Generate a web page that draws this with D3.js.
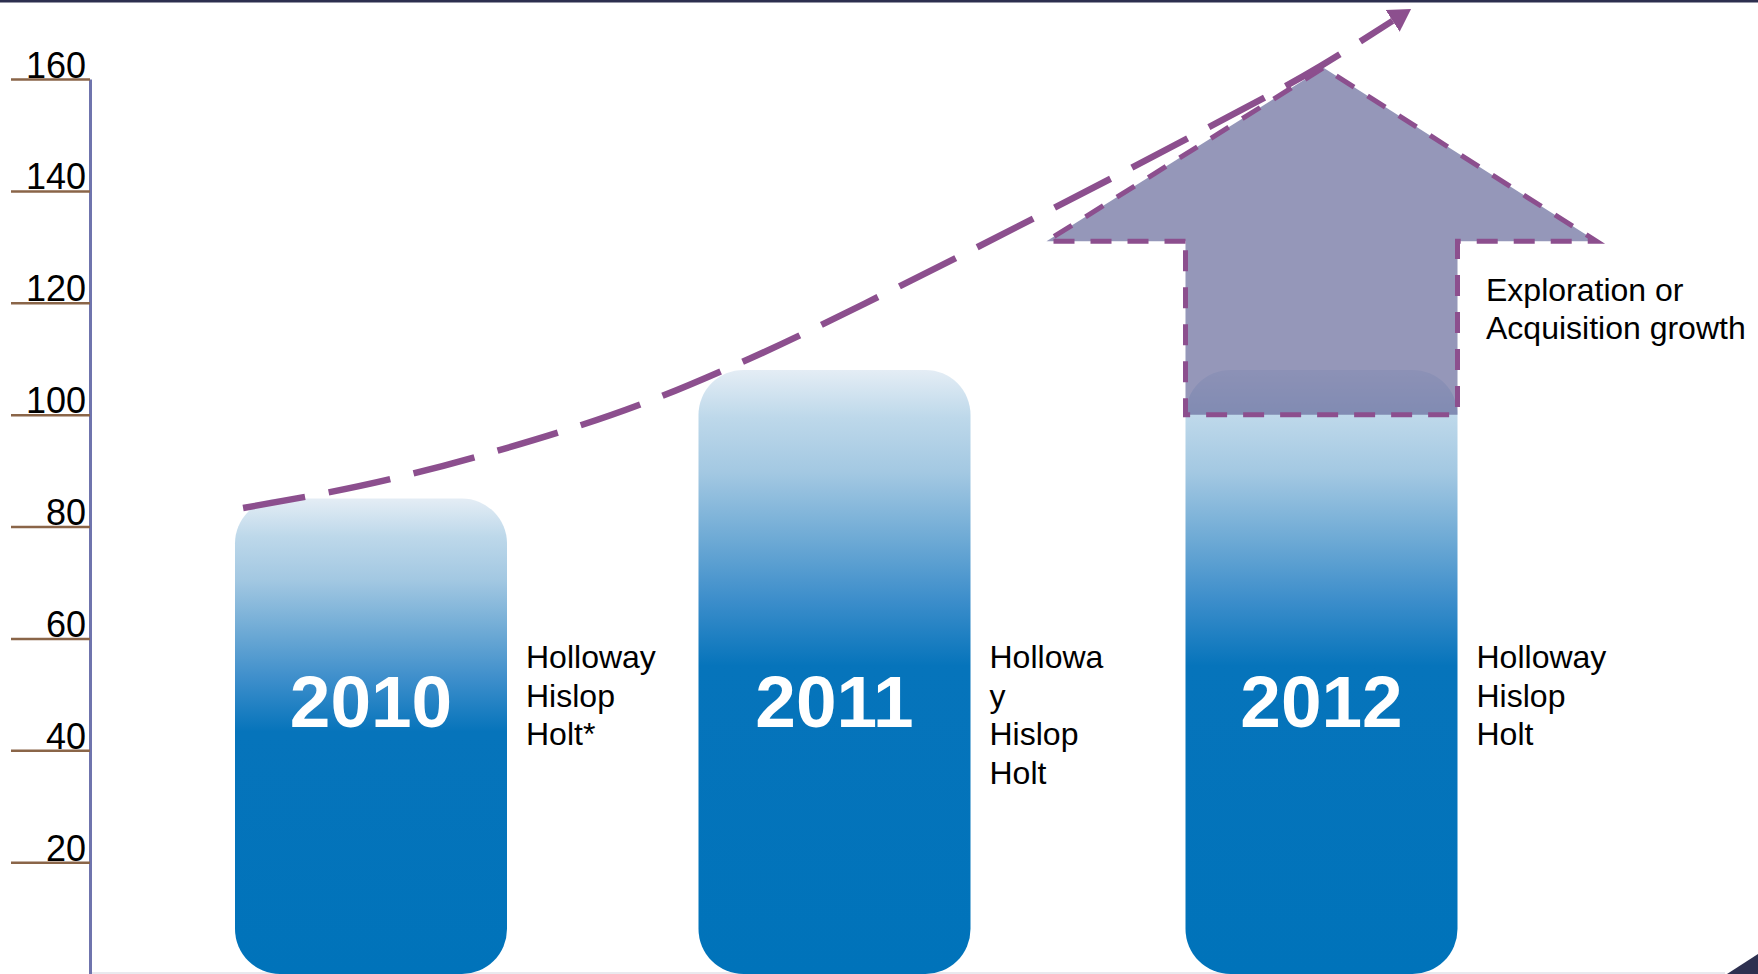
<!DOCTYPE html>
<head>
	<meta charset="utf-8">
	<title>Growth chart</title>
	<style>
	body { margin: 0; background: #fff; }
	svg { display: block; font-family: "Liberation Sans", Arial, sans-serif; }
	.tick text { font-size: 36px; fill: #000; }
	.note { font-size: 32px; fill: #000; }
	.year { font-size: 73px; font-weight: bold; fill: #fff; }
	</style>
</head>
<body>
<script src="https://d3js.org/d3.v7.min.js"></script>
<script>

var width = 1758, height = 974

// data
var years = [2010, 2011, 2012];
var barValues = [85, 108, 108];
var barNotes = [
	["Holloway", "Hislop", "Holt*"],
	["Hollowa", "y", "Hislop", "Holt"],
	["Holloway", "Hislop", "Holt"]
];
var tickValues = [20, 40, 60, 80, 100, 120, 140, 160];
// growth arrow over 2012: shaft bottom, head base, tip
var arrowValues = [100, 131, 162];
var arrowNote = ["Exploration or", "Acquisition growth"];
// dashed trend line (year position, value)
var trendYears = [2009.724, 2010.043, 2010.279, 2010.590, 2010.814, 2011.105, 2011.427, 2011.745, 2011.998, 2012.146];
var trendValues = [83.3, 88.5, 93.7, 102.1, 109.9, 121.7, 135.9, 150.3, 162.3, 170.4];

var svg = d3.select("body")
	.append("svg")
	.attr("width", width)
	.attr("height", height);

var y = d3.scaleLinear().domain([0, 160]).range([974, 79]);
var x = d3.scaleLinear().domain(years).range([371, 834.5, 1321.5]);
var barWidth = 272;

var defs = svg.append("defs");
var grad = defs.append("linearGradient")
	.attr("id", "barGrad")
	.attr("x1", 0).attr("y1", 0).attr("x2", 0).attr("y2", 1);
[[0, "#e4edf5"], [0.08, "#bdd8ea"], [0.17, "#a3c8e2"], [0.28, "#6eaad5"], [0.38, "#3d8ecb"], [0.49, "#0674bb"], [1, "#0073ba"]]
	.forEach(function(s) { grad.append("stop").attr("offset", s[0]).attr("stop-color", s[1]); });

defs.append("marker")
	.attr("id", "head")
	.attr("markerUnits", "userSpaceOnUse")
	.attr("markerWidth", 30).attr("markerHeight", 30)
	.attr("viewBox", "0 -15 30 30")
	.attr("refX", 0).attr("refY", 0)
	.attr("orient", "auto")
	.append("path")
	.attr("d", "M0,-13L22,0L0,13Z")
	.attr("fill", "#8c4f8e");

// frame bits
svg.append("rect").attr("x", 0).attr("y", 0).attr("width", width).attr("height", 2.5).attr("fill", "#2d2f4f");
svg.append("line").attr("x1", 90).attr("x2", 1725).attr("y1", 973).attr("y2", 973)
	.attr("stroke", "#e2e2e8").attr("stroke-width", 1.5);
svg.append("path").attr("d", "M1727,974L1758,954L1758,974Z").attr("fill", "#2d3050");

// axis
var axis = svg.append("g")
	.attr("transform", "translate(90,0)")
	.call(d3.axisLeft(y).tickValues(tickValues).tickSize(79).tickSizeOuter(0));
axis.select(".domain").attr("stroke", "#6f74ad").attr("stroke-width", 3);
axis.selectAll(".tick line").attr("stroke", "#8a6548").attr("stroke-width", 2.5);
axis.selectAll(".tick text").attr("x", -4).attr("dy", -2).attr("font-family", null).attr("font-size", null);

// bars
var bars = svg.selectAll(".bar")
	.data(years)
	.enter().append("g")
	.attr("class", "bar");

bars.append("rect")
	.attr("x", function(d) { return x(d) - barWidth / 2; })
	.attr("y", function(d, i) { return y(barValues[i]); })
	.attr("width", barWidth)
	.attr("height", function(d, i) { return y(0) - y(barValues[i]); })
	.attr("rx", 45).attr("ry", 45)
	.attr("fill", "url(#barGrad)");

bars.append("text")
	.attr("class", "year")
	.attr("x", function(d) { return x(d); })
	.attr("y", 727)
	.attr("text-anchor", "middle")
	.text(function(d) { return d; });

bars.append("text")
	.attr("class", "note")
	.attr("x", function(d) { return x(d) + barWidth / 2 + 19; })
	.attr("y", 668)
	.selectAll("tspan")
	.data(function(d, i) { return barNotes[i]; })
	.enter().append("tspan")
	.attr("x", function() { return this.parentNode.getAttribute("x"); })
	.attr("dy", function(d, i) { return i ? 38.5 : 0; })
	.text(function(d) { return d; });

// growth arrow
var sL = x(2012) - barWidth / 2, sR = x(2012) + barWidth / 2, over = 139;
var arrowPts = [
	[sL, y(arrowValues[1])], [sL - over, y(arrowValues[1])], [x(2012) + 2, y(arrowValues[2])],
	[sR + over, y(arrowValues[1])], [sR, y(arrowValues[1])], [sR, y(arrowValues[0])], [sL, y(arrowValues[0])]
];
svg.append("path")
	.attr("d", "M" + arrowPts.join("L") + "Z")
	.attr("fill", "#636698")
	.attr("fill-opacity", 0.68)
	.attr("stroke", "#8c4f8e")
	.attr("stroke-width", 5)
	.attr("stroke-dasharray", "21,16");

svg.append("text")
	.attr("class", "note")
	.attr("x", 1486)
	.attr("y", 301)
	.selectAll("tspan")
	.data(arrowNote)
	.enter().append("tspan")
	.attr("x", 1486)
	.attr("dy", function(d, i) { return i ? 38 : 0; })
	.text(function(d) { return d; });

// trend
var line = d3.line()
	.x(function(d) { return x(d); })
	.y(function(d, i) { return y(trendValues[i]); })
	.curve(d3.curveMonotoneX);

svg.append("path")
	.attr("d", line(trendYears))
	.attr("fill", "none")
	.attr("stroke", "#8c4f8e")
	.attr("stroke-width", 6.5)
	.attr("stroke-dasharray", "63,24")
	.attr("marker-end", "url(#head)");

</script>
